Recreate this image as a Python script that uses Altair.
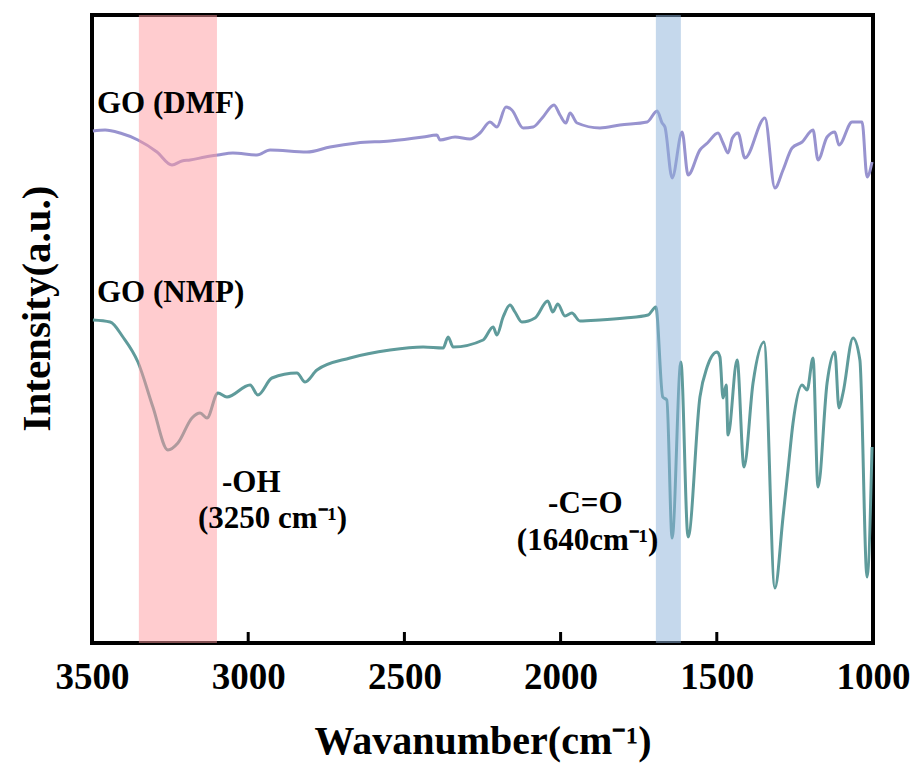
import altair as alt
import pandas as pd

# ---- data ----
dmf_wn = [3497, 3458, 3410, 3353, 3292, 3244, 3212, 3186, 3138, 3097, 3049, 2972, 2930, 2812,
          2738, 2652, 2546, 2440, 2396, 2386, 2338, 2290, 2258, 2226, 2204, 2175, 2156, 2120,
          2088, 2059, 2021, 2002, 1983, 1970, 1947, 1874, 1810, 1723, 1691, 1675, 1666, 1643,
          1611, 1592, 1554, 1530, 1496, 1480, 1464, 1450, 1432, 1410, 1346, 1314, 1288, 1259,
          1227, 1192, 1176, 1147, 1122, 1109, 1067, 1035, 1019, 1003]
dmf_int = [512, 513, 510, 503, 491, 478, 482, 483, 486, 488, 490, 488, 493, 491,
           496, 500, 502, 506, 508, 503, 506, 504, 510, 521, 516, 536, 533, 515,
           516, 525, 538, 528, 520, 530, 520, 515, 518, 521, 532, 520, 516, 465,
           511, 468, 493, 500, 510, 500, 490, 505, 510, 485, 525, 455, 473, 495,
           501, 513, 483, 506, 511, 498, 521, 521, 466, 481]

nmp_wn = [3497, 3442, 3401, 3353, 3305, 3257, 3225, 3180, 3154, 3132, 3097, 3068, 2994, 2969,
          2924, 2844, 2818, 2780, 2674, 2546, 2440, 2376, 2360, 2344, 2248, 2216, 2204, 2184,
          2162, 2146, 2124, 2082, 2041, 2025, 2009, 1986, 1964, 1938, 1874, 1794, 1720, 1695,
          1673, 1660, 1643, 1615, 1592, 1554, 1531, 1499, 1490, 1480, 1470, 1464, 1435, 1413,
          1384, 1349, 1314, 1288, 1272, 1256, 1227, 1211, 1192, 1176, 1147, 1122, 1109, 1096,
          1064, 1042, 1019, 1003]
nmp_int = [323, 321, 306, 281, 236, 193, 200, 225, 230, 225, 250, 246, 258, 248,
           265, 270, 261, 273, 285, 293, 296, 295, 306, 296, 303, 316, 308, 326,
           338, 331, 321, 325, 342, 331, 339, 327, 330, 322, 323, 325, 328, 336,
           246, 243, 105, 281, 106, 246, 276, 291, 286, 245, 258, 208, 283, 176,
           260, 301, 55, 126, 173, 220, 258, 253, 285, 156, 260, 291, 235, 250,
           305, 283, 66, 196]

band_start = [3350, 1695]
band_end = [3100, 1615]
band_color = ["#ff9aa0", "#8cb2da"]

tick_values = [3000, 2500, 2000, 1500]

label_text = ["GO (DMF)", "GO (NMP)", "-OH", "(3250 cm⁻¹)", "-C=O", "(1640cm⁻¹)"]
label_wn = [3484, 3484, 3084, 3161, 2040, 2140]
label_int = [530, 341, 151, 115, 130, 93]

W, H = 781, 628
FONT = "Liberation Serif"

spec = pd.concat([
    pd.DataFrame({"wn": dmf_wn, "intensity": dmf_int, "series": "GO (DMF)"}),
    pd.DataFrame({"wn": nmp_wn, "intensity": nmp_int, "series": "GO (NMP)"}),
])
bands = pd.DataFrame({"x1": band_start, "x2": band_end, "color": band_color})
ticks = pd.DataFrame({"wn": tick_values})
labels = pd.DataFrame({"text": label_text, "wn": label_wn, "intensity": label_int})

xscale = alt.Scale(domain=[1000, 3500], reverse=True, nice=False, zero=False)
yscale = alt.Scale(domain=[0, 628], nice=False, zero=False)

xaxis = alt.Axis(values=[3500, 3000, 2500, 2000, 1500, 1000], format="d", ticks=False,
                 domain=False, grid=False, labelFont=FONT, labelFontSize=37,
                 labelFontWeight="bold", labelColor="black", labelPadding=45,
                 labelBaseline="alphabetic", labelFlush=False, labelOverlap=False,
                 title="Wavanumber(cm⁻¹)", titleFont=FONT, titleFontSize=40,
                 titleFontWeight="bold", titleColor="black", titleBaseline="alphabetic",
                 titleY=110)
yaxis = alt.Axis(labels=False, ticks=False, domain=False, grid=False,
                 title="Intensity(a.u.)", titleFont=FONT, titleFontSize=41,
                 titleFontWeight="bold", titleColor="black", titleBaseline="alphabetic",
                 titleX=-43, titleY=293)

lines = alt.Chart(spec).mark_line(strokeWidth=3, interpolate="monotone").encode(
    x=alt.X("wn:Q", scale=xscale, axis=xaxis),
    y=alt.Y("intensity:Q", scale=yscale, axis=yaxis),
    color=alt.Color("series:N", scale=alt.Scale(domain=["GO (DMF)", "GO (NMP)"],
                                                range=["#9893cf", "#5f9b9b"]), legend=None),
    order="order:Q",
).transform_window(order="row_number()", groupby=["series"])

band_layer = alt.Chart(bands).mark_rect(opacity=0.5).encode(
    x=alt.X("x1:Q", scale=xscale),
    x2="x2:Q",
    y=alt.value(0),
    y2=alt.value(H),
    color=alt.Color("color:N", scale=None),
)

tick_layer = alt.Chart(ticks).mark_rule(color="black", strokeWidth=3).encode(
    x=alt.X("wn:Q", scale=xscale),
    y=alt.value(H),
    y2=alt.value(H - 11),
)

text_layer = alt.Chart(labels).mark_text(font=FONT, fontSize=31, fontWeight="bold",
                                         align="left", baseline="alphabetic",
                                         color="black").encode(
    x=alt.X("wn:Q", scale=xscale),
    y=alt.Y("intensity:Q", scale=yscale),
    text="text:N",
)

chart = alt.layer(lines, band_layer, tick_layer, text_layer).properties(
    width=W, height=H,
    autosize=alt.AutoSizeParams(type="none"),
    padding={"left": 92, "top": 15, "right": 43, "bottom": 124},
    background="white",
).configure_view(stroke="black", strokeWidth=4)

chart.save("out.html", embed_options={"renderer": "svg", "actions": False})
